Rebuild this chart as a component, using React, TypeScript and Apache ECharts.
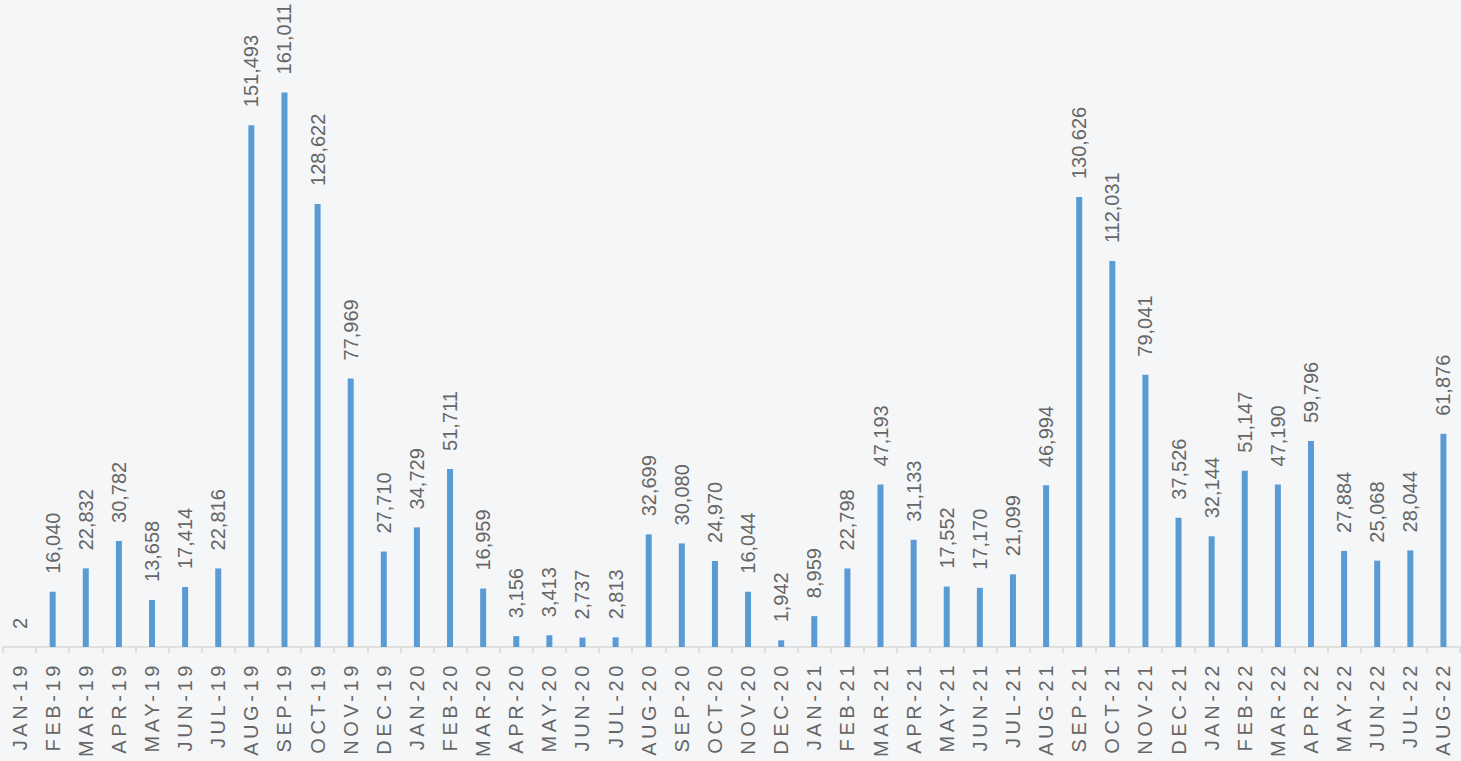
import React, { useEffect, useRef } from "react";
import * as echarts from "echarts";

const categories = [
  "JAN-19", "FEB-19", "MAR-19", "APR-19", "MAY-19", "JUN-19", "JUL-19", "AUG-19", "SEP-19", "OCT-19", "NOV-19", "DEC-19",
  "JAN-20", "FEB-20", "MAR-20", "APR-20", "MAY-20", "JUN-20", "JUL-20", "AUG-20", "SEP-20", "OCT-20", "NOV-20", "DEC-20",
  "JAN-21", "FEB-21", "MAR-21", "APR-21", "MAY-21", "JUN-21", "JUL-21", "AUG-21", "SEP-21", "OCT-21", "NOV-21", "DEC-21",
  "JAN-22", "FEB-22", "MAR-22", "APR-22", "MAY-22", "JUN-22", "JUL-22", "AUG-22",
];

const values = [
  2, 16040, 22832, 30782, 13658, 17414, 22816, 151493, 161011, 128622, 77969, 27710,
  34729, 51711, 16959, 3156, 3413, 2737, 2813, 32699, 30080, 24970, 16044, 1942,
  8959, 22798, 47193, 31133, 17552, 17170, 21099, 46994, 130626, 112031, 79041, 37526,
  32144, 51147, 47190, 59796, 27884, 25068, 28044, 61876,
];

const AXIS_FONT = "Liberation Sans";
const LABEL_FONT = "Arial, sans-serif";

function spaceAxisLabels(root: HTMLElement | null) {
  if (!root) return;
  const set = new Set(categories);
  root.querySelectorAll("text").forEach((t) => {
    if (set.has((t.textContent || "").trim())) {
      (t as SVGTextElement).style.letterSpacing = "3.6px";
    }
  });
}

export default function App() {
  const ref = useRef<HTMLDivElement>(null);
  useEffect(() => {
    document.body.style.margin = "0";
    const chart = echarts.init(ref.current!, undefined, { renderer: "svg" });
    chart.setOption({
      animation: false,
      backgroundColor: "#f5f6f8",
      grid: { left: 3, right: 1, top: 27, bottom: 114, containLabel: false },
      xAxis: {
        type: "category",
        data: categories,
        boundaryGap: true,
        axisLine: { show: true, lineStyle: { color: "#d9d9d9", width: 1.5 } },
        axisTick: { show: true, alignWithLabel: false, length: 6, lineStyle: { color: "#d9d9d9", width: 1.5 } },
        axisLabel: {
          interval: 0,
          rotate: 90,
          margin: 15,
          color: "#666666",
          fontSize: 20,
          fontFamily: AXIS_FONT,
        },
      },
      yAxis: {
        type: "value",
        min: 0,
        max: 180000,
        show: false,
        splitLine: { show: false },
      },
      series: [
        {
          type: "bar",
          data: values,
          barWidth: 6,
          itemStyle: { color: "#5b9bd5" },
          label: {
            show: true,
            position: "top",
            rotate: 90,
            align: "left",
            verticalAlign: "middle",
            distance: 18,
            color: "#666666",
            fontSize: 20,
            fontFamily: LABEL_FONT,
            formatter: (p: any) => Number(p.value).toLocaleString("en-US"),
          },
        },
      ],
    });
    spaceAxisLabels(ref.current);
    const raf = requestAnimationFrame(() => spaceAxisLabels(ref.current));
    const to = setTimeout(() => spaceAxisLabels(ref.current), 50);
    return () => {
      cancelAnimationFrame(raf);
      clearTimeout(to);
      chart.dispose();
    };
  }, []);
  return (
    <div
      ref={ref}
      style={{ position: "fixed", left: 0, top: 0, width: 1461, height: 761 }}
    />
  );
}
